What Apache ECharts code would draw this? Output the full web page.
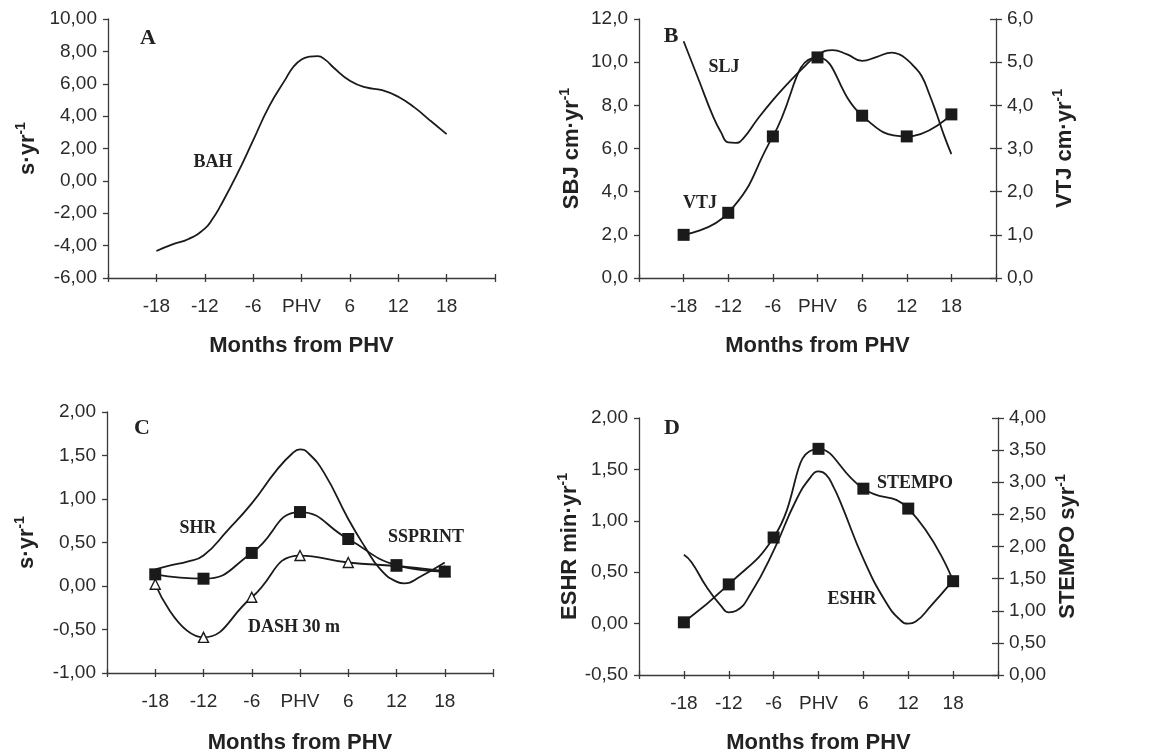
<!DOCTYPE html>
<html>
<head>
<meta charset="utf-8">
<script src="https://cdn.jsdelivr.net/npm/echarts@6/dist/echarts.min.js"></script>
<style>
html,body{margin:0;padding:0;background:#fff;}
#chart{width:1162px;height:755px;}
</style>
</head>
<body>
<div id="chart"></div>
<script>
// ---------- DATA ----------
const xTickMonths = [-18, -12, -6, 0, 6, 12, 18];   // tick positions ("0" shown as PHV)
const months6 = [-18, -12, -6, 0, 6, 12, 18];        // measured ages for marker series

// Panel A
const bahMonths = [-18,-16,-14,-12,-11,-10,-8,-6,-4,-2,-1,0,1,2,3,4,6,8,10,12,14,16,18];
const bahValues = [-4.33,-3.92,-3.59,-2.95,-2.33,-1.5,0.4,2.5,4.62,6.27,7.05,7.5,7.67,7.71,7.46,6.99,6.19,5.77,5.61,5.2,4.54,3.71,2.89];

// Panel B
const sljMonths = [-18,-16,-14,-13,-12,-11,-10,-8,-6,-4,-2,0,2,4,6,8,10,11,12,13,14,15,16,17,18];
const sljValues = [10.97,9.21,7.45,6.77,6.28,6.26,6.46,7.39,8.24,9.01,9.71,10.32,10.56,10.36,10.06,10.25,10.44,10.36,10.13,9.79,9.36,8.55,7.62,6.62,5.74];
const vtjValues = [1.0,1.51,3.28,5.11,3.76,3.28,3.79];

// Panel C
const shrMonths = [-18,-16,-14,-12,-9,-6,-3,-1,0,1,3,6,8,10,12,13,15,18];
const shrValues = [0.19,0.24,0.28,0.35,0.64,0.95,1.32,1.52,1.57,1.53,1.30,0.77,0.46,0.19,0.05,0.03,0.11,0.27];
const dashValues = [0.02,-0.59,-0.13,0.35,0.27,0.23,0.17];
const ssprintValues = [0.134,0.084,0.38,0.85,0.54,0.24,0.165];

// Panel D
const eshrMonths = [-18,-17,-15,-13,-12,-11,-9,-6,-3,-1,0,1,2,3,6,9,11,12,13,15,18];
const eshrValues = [0.67,0.60,0.36,0.17,0.11,0.125,0.30,0.71,1.20,1.43,1.48,1.45,1.33,1.17,0.63,0.21,0.03,0.0,0.02,0.17,0.42];
const stempoValues = [0.82,1.41,2.14,3.52,2.90,2.59,1.46];

// ---------- HELPERS ----------
const pair = (xs, ys) => xs.map((x, i) => [x, ys[i]]);
const fmt = d => v => v.toFixed(d).replace('.', ',');
const INK = '#1a1a1a';
const AX = '#3a3a3a';
const SANS = '"Liberation Sans", Arial, sans-serif';
const SERIF = '"Liberation Serif", "Times New Roman", serif';
const labelStyle = {fontSize: 19, color: '#2a2a2a', fontFamily: SANS};

function xPair(grid, gap) {
  const base = {
    type: 'value', gridIndex: grid, min: -24, max: 24, interval: 6, position: 'bottom',
    splitLine: {show: false}
  };
  return [
    Object.assign({}, base, {
      axisLine: {show: true, onZero: false, lineStyle: {color: AX, width: 1.3}},
      axisTick: {show: true, inside: false, length: 4, lineStyle: {color: AX, width: 1.3}},
      axisLabel: Object.assign({}, labelStyle, {
        margin: 19,
        formatter: v => v === 0 ? 'PHV' : (xTickMonths.indexOf(v) >= 0 ? String(v) : '')
      }),
      name: 'Months from PHV', nameLocation: 'middle', nameGap: gap,
      nameTextStyle: {fontSize: 22, fontWeight: 'bold', color: '#222', fontFamily: SANS}
    }),
    Object.assign({}, base, {
      axisLine: {show: false, onZero: false},
      axisTick: {show: true, inside: true, length: 4, lineStyle: {color: AX, width: 1.3}},
      axisLabel: {show: false}
    })
  ];
}

const richName = {
  b: {fontSize: 22, fontWeight: 'bold', color: '#222', fontFamily: SANS, lineHeight: 28},
  s: {fontSize: 14, fontWeight: 'bold', color: '#222', fontFamily: SANS, lineHeight: 14, verticalAlign: 'top'}
};

function yAxis(grid, pos, min, max, interval, dec, name, gap) {
  return {
    type: 'value', gridIndex: grid, position: pos, min: min, max: max, interval: interval,
    splitLine: {show: false},
    axisLine: {show: true, onZero: false, lineStyle: {color: AX, width: 1.3}},
    axisTick: {show: true, inside: false, length: pos === 'right' ? 6 : 5, lineStyle: {color: AX, width: 1.3}},
    axisLabel: Object.assign({}, labelStyle, {margin: 11, formatter: fmt(dec)}),
    name: name, nameLocation: 'middle', nameGap: gap,
    nameTextStyle: {rich: richName}
  };
}
function yInner(grid, min, max, interval) {
  return {
    type: 'value', gridIndex: grid, position: 'right', min: min, max: max, interval: interval,
    splitLine: {show: false}, axisLine: {show: false, onZero: false},
    axisTick: {show: true, inside: true, length: 6, lineStyle: {color: AX, width: 1.3}},
    axisLabel: {show: false}
  };
}

const lineBase = {type: 'line', smooth: true, lineStyle: {color: INK, width: 1.8}, z: 3};
const squareStyle = {symbol: 'rect', symbolSize: 12, showSymbol: true, showAllSymbol: true,
  itemStyle: {color: INK, borderColor: INK, borderWidth: 0}};

function txt(x, y, text, size, family) {
  return {type: 'text', x: x, y: y, style: {text: text, font: 'bold ' + size + 'px ' + family,
    fill: '#222', align: 'center', verticalAlign: 'middle'}};
}

// ---------- CHART ----------
const chart = echarts.init(document.getElementById('chart'), null, {renderer: 'canvas'});
const option = {
  animation: false,
  backgroundColor: '#fff',
  grid: [
    {left: 108, top: 19, width: 387, height: 259},
    {left: 639, top: 19, width: 357, height: 259},
    {left: 107, top: 412, width: 386, height: 262},
    {left: 639, top: 418, width: 359, height: 259}
  ],
  xAxis: [].concat(xPair(0, 57), xPair(1, 57), xPair(2, 59), xPair(3, 57)),
  yAxis: [
    yAxis(0, 'left', -6, 10, 2, 2, '{b|s·yr}{s|-1}', 66),
    yAxis(1, 'left', 0, 12, 2, 1, '{b|SBJ cm·yr}{s|-1}', 53),
    yAxis(1, 'right', 0, 6, 1, 1, '{b|VTJ cm·yr}{s|-1}', 55),
    yInner(1, 0, 6, 1),
    yAxis(2, 'left', -1, 2, 0.5, 2, '{b|s·yr}{s|-1}', 66),
    yAxis(3, 'left', -0.5, 2, 0.5, 2, '{b|ESHR min·yr}{s|-1}', 53),
    yAxis(3, 'right', 0, 4, 0.5, 2, '{b|STEMPO syr}{s|-1}', 56),
    yInner(3, 0, 4, 0.5)
  ],
  series: [
    Object.assign({}, lineBase, {name: 'BAH', xAxisIndex: 0, yAxisIndex: 0, symbol: 'none',
      data: pair(bahMonths, bahValues)}),
    Object.assign({}, lineBase, {name: 'SLJ', xAxisIndex: 2, yAxisIndex: 1, symbol: 'none',
      data: pair(sljMonths, sljValues)}),
    Object.assign({}, lineBase, squareStyle, {name: 'VTJ', xAxisIndex: 2, yAxisIndex: 2,
      data: pair(months6, vtjValues)}),
    Object.assign({}, lineBase, {name: 'SHR', xAxisIndex: 4, yAxisIndex: 4, symbol: 'none',
      data: pair(shrMonths, shrValues)}),
    Object.assign({}, lineBase, {name: 'DASH 30 m', xAxisIndex: 4, yAxisIndex: 4,
      symbol: 'triangle', symbolSize: 10, showSymbol: true, showAllSymbol: true,
      itemStyle: {color: '#fff', borderColor: INK, borderWidth: 1.4},
      data: pair(months6, dashValues)}),
    Object.assign({}, lineBase, squareStyle, {name: 'SSPRINT', xAxisIndex: 4, yAxisIndex: 4, z: 4,
      data: pair(months6, ssprintValues)}),
    Object.assign({}, lineBase, {name: 'ESHR', xAxisIndex: 6, yAxisIndex: 5, symbol: 'none',
      data: pair(eshrMonths, eshrValues)}),
    Object.assign({}, lineBase, squareStyle, {name: 'STEMPO', xAxisIndex: 6, yAxisIndex: 6,
      data: pair(months6, stempoValues)})
  ],
  graphic: [
    txt(148, 38, 'A', 22, SERIF),
    txt(671, 36, 'B', 22, SERIF),
    txt(142, 428, 'C', 22, SERIF),
    txt(672, 428, 'D', 22, SERIF),
    txt(213, 162, 'BAH', 18, SERIF),
    txt(724, 67, 'SLJ', 18, SERIF),
    txt(700, 203, 'VTJ', 18, SERIF),
    txt(198, 528, 'SHR', 18, SERIF),
    txt(426, 537, 'SSPRINT', 18, SERIF),
    txt(294, 627, 'DASH 30 m', 18, SERIF),
    txt(915, 483, 'STEMPO', 18, SERIF),
    txt(852, 599, 'ESHR', 18, SERIF)
  ]
};
chart.setOption(option);
</script>
</body>
</html>
